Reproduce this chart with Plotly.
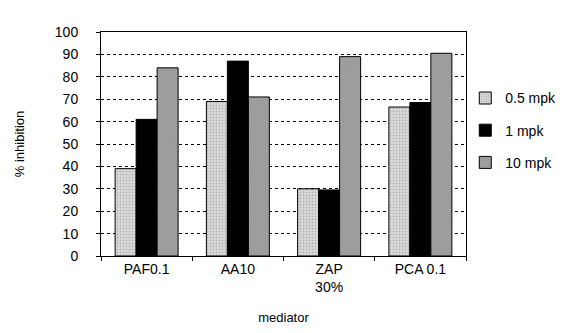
import plotly.graph_objects as go

categories = ["PAF0.1", "AA10", "ZAP<br>30%", "PCA 0.1"]
series_names = ["0.5 mpk", "1 mpk", "10 mpk"]
vals_05 = [39, 69, 30, 66.5]
vals_1 = [61, 87, 29.5, 68.5]
vals_10 = [84, 71, 89, 90.5]

colors = ["#dcdcdc", "#000000", "#a0a0a0"]
patterns = [".", "", "x"]
font = "Liberation Sans, Arial, sans-serif"

fig = go.Figure()
for name, vals, c, p in zip(series_names, [vals_05, vals_1, vals_10], colors, patterns):
    fig.add_trace(go.Bar(
        x=categories, y=vals, name=name, legendgroup=name,
        marker=dict(color=c, line=dict(color="#000", width=1),
                    pattern=dict(shape=p, fgcolor="#888888", size=3, solidity=0.3) if p else None),
    ))

fig.update_layout(
    width=576, height=333,
    margin=dict(l=93, r=118, t=24, b=85),
    paper_bgcolor="white", plot_bgcolor="white",
    barmode="group", bargap=0.31, bargroupgap=0,
    font=dict(family=font, size=12, color="#000"),
    legend=dict(x=0.998, y=0.775, xanchor="left", yanchor="top",
                bgcolor="rgba(0,0,0,0)",
                font=dict(size=14), tracegroupgap=11,
                itemwidth=30),
    xaxis=dict(showline=True, linecolor="#000", linewidth=1, mirror=True,
               ticks="outside", tickson="boundaries", ticklen=4, tickcolor="#000",
               tickfont=dict(size=14),
               title=dict(text="mediator", font=dict(size=13), standoff=18)),
    yaxis=dict(range=[0, 100], dtick=10, showline=True, linecolor="#000", mirror=True,
               ticks="outside", ticklen=4, tickcolor="#000", ticklabelstandoff=15,
               showgrid=True, gridcolor="#000", griddash="dot", gridwidth=1,
               tickfont=dict(size=14),
               title=dict(text="% inhibition", font=dict(size=13), standoff=27)),
)

fig.write_html("out.html")
